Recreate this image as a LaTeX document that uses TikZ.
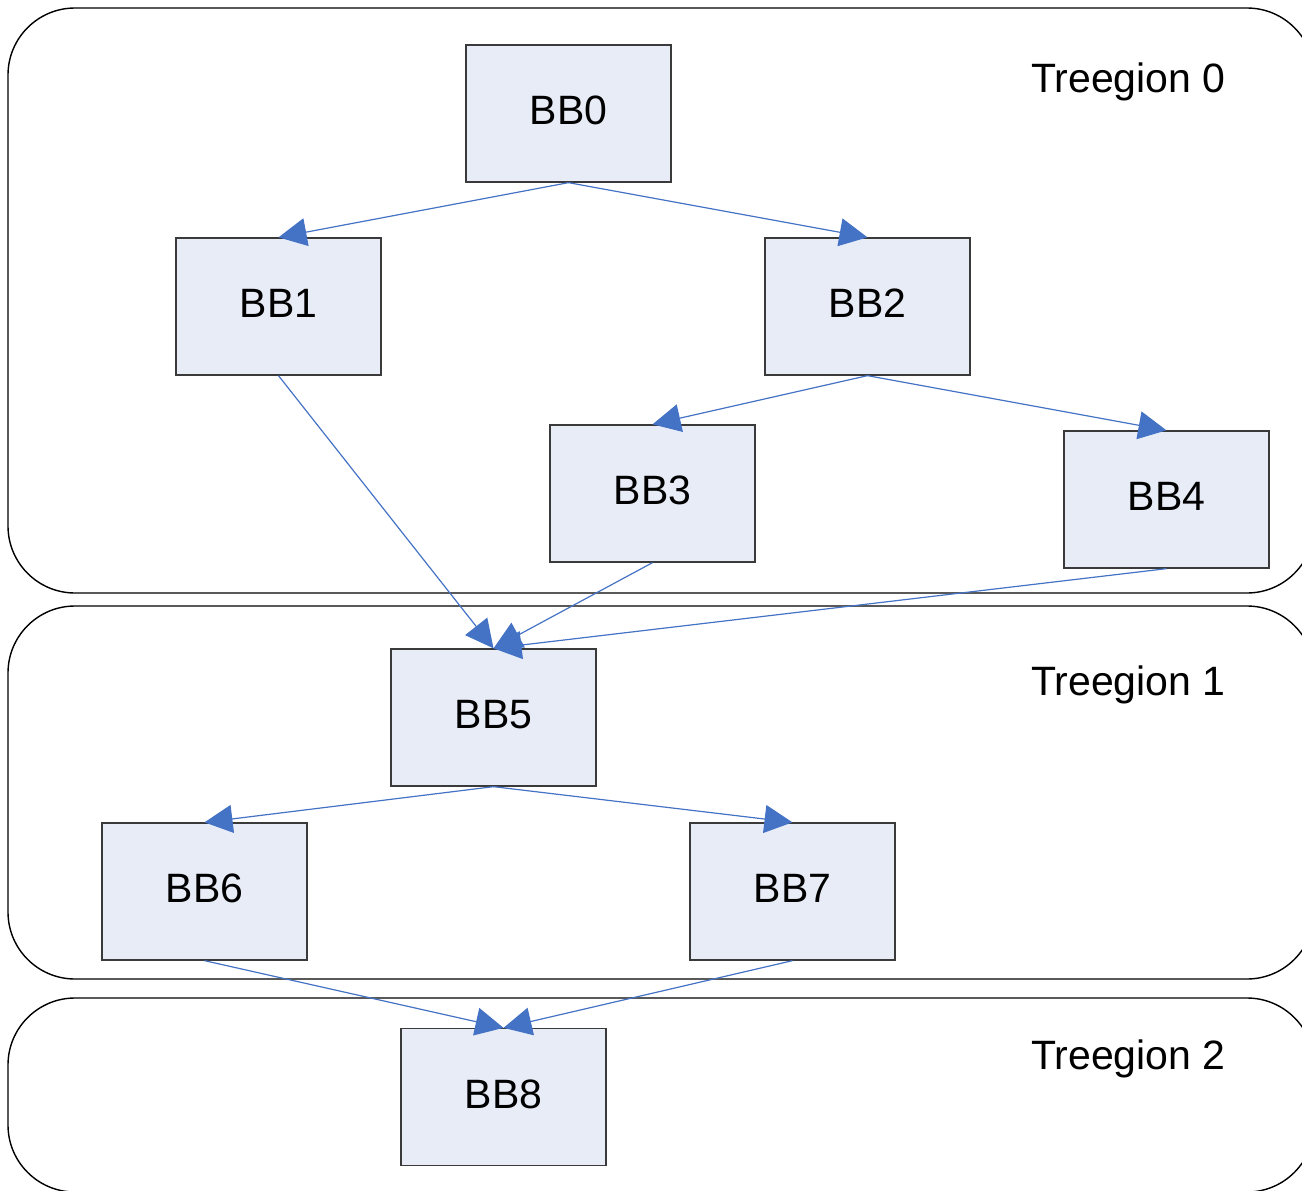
\documentclass[tikz,border=0pt]{standalone}
\usepackage{fontspec}
\setmainfont{Liberation Sans}
\usetikzlibrary{arrows.meta}
\definecolor{bbfill}{HTML}{E8ECF7}
\definecolor{bbedge}{HTML}{3A3A3A}
\definecolor{flow}{HTML}{4472C4}
\begin{document}
\begin{tikzpicture}[x=1pt,y=-1pt,
  region/.style={draw=black, line width=1.4pt, rounded corners=67pt},
  bb/.style={draw=bbedge, fill=bbfill, line width=1.3pt, minimum width=205pt,
    minimum height=137pt, inner sep=0pt, text depth=6pt, font=\fontsize{41}{48}\selectfont},
  rlabel/.style={anchor=base west, inner sep=0pt, font=\fontsize{41}{48}\selectfont},
  edge/.style={draw=flow, line width=1.2pt, -{Triangle[length=28pt,width=28pt]}}]
\useasboundingbox (0,0) rectangle (1302,1191);
\clip (0,0) rectangle (1302,1191);

% treegion outlines
\draw[region] (8,8) rectangle (1314,593);
\draw[region] (8,606) rectangle (1314,979);
\draw[region] (8,998) rectangle (1314,1192);

\node[rlabel] (t0) at (1031,92) {Treegion 0};
\node[rlabel] (t1) at (1031,695) {Treegion 1};
\node[rlabel] (t2) at (1031,1069) {Treegion 2};

% basic blocks
\node[bb] (bb0) at (568.5,113.5) {BB0};
\node[bb] (bb1) at (278.5,306.5) {BB1};
\node[bb] (bb2) at (867.5,306.5) {BB2};
\node[bb] (bb3) at (652.5,493.5) {BB3};
\node[bb] (bb4) at (1166.5,499.5) {BB4};
\node[bb] (bb5) at (493.5,717.5) {BB5};
\node[bb] (bb6) at (204.5,891.5) {BB6};
\node[bb] (bb7) at (792.5,891.5) {BB7};
\node[bb] (bb8) at (503.5,1097) {BB8};

% control flow
\draw[edge] (bb0.south) -- (bb1.north);
\draw[edge] (bb0.south) -- (bb2.north);
\draw[edge] (bb2.south) -- (bb3.north);
\draw[edge] (bb2.south) -- (bb4.north);
\draw[edge] (bb1.south) -- (bb5.north);
\draw[edge] (bb3.south) -- (bb5.north);
\draw[edge] (bb4.south) -- (bb5.north);
\draw[edge] (bb5.south) -- (bb6.north);
\draw[edge] (bb5.south) -- (bb7.north);
\draw[edge] (bb6.south) -- (bb8.north);
\draw[edge] (bb7.south) -- (bb8.north);
\end{tikzpicture}
\end{document}
